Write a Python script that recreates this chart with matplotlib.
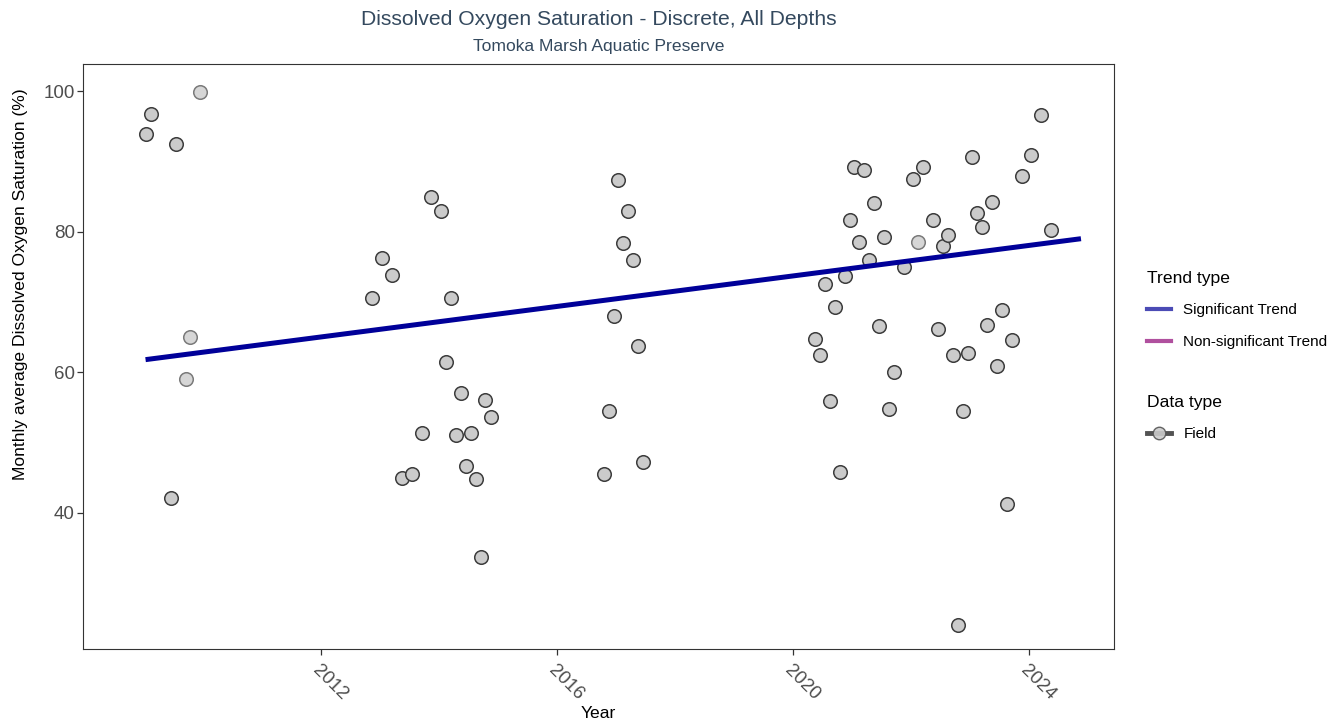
import numpy as np
import matplotlib
matplotlib.use("Agg")
import matplotlib.pyplot as plt
from matplotlib.lines import Line2D

plt.rcParams['font.family'] = ['Liberation Sans', 'DejaVu Sans']

# Monthly averages (decimal year, % saturation)
years = [
    2009.04, 2009.125, 2009.46, 2009.54,
    2012.875, 2013.04, 2013.21, 2013.375, 2013.54, 2013.71, 2013.875,
    2014.04, 2014.125, 2014.21, 2014.29, 2014.375, 2014.46, 2014.54,
    2014.625, 2014.71, 2014.79, 2014.875,
    2016.79, 2016.875, 2016.96, 2017.04, 2017.125, 2017.21, 2017.29,
    2017.375, 2017.46,
    2020.375, 2020.46, 2020.54, 2020.625, 2020.71, 2020.79, 2020.875,
    2020.96, 2021.04, 2021.125, 2021.21, 2021.29, 2021.375, 2021.46,
    2021.54, 2021.625, 2021.71, 2021.875, 2022.04, 2022.21, 2022.375,
    2022.46, 2022.54, 2022.625, 2022.71, 2022.79, 2022.875, 2022.96,
    2023.04, 2023.125, 2023.21, 2023.29, 2023.375, 2023.46, 2023.54,
    2023.625, 2023.71, 2023.875, 2024.04, 2024.21, 2024.375,
]
values = [
    93.9, 96.7, 42.1, 92.5,
    70.5, 76.2, 73.8, 44.9, 45.5, 51.4, 84.9,
    83.0, 61.5, 70.5, 51.1, 57.1, 46.7, 51.4,
    44.8, 33.7, 56.0, 53.6,
    45.5, 54.5, 68.0, 87.3, 78.4, 82.9, 76.0,
    63.7, 47.3,
    64.7, 62.4, 72.5, 55.9, 69.3, 45.8, 73.7,
    81.7, 89.2, 78.6, 88.8, 75.9, 84.1, 66.6,
    79.3, 54.8, 60.0, 75.0, 87.5, 89.2, 81.6,
    66.2, 78.0, 79.5, 62.5, 24.1, 54.5, 62.7,
    90.6, 82.7, 80.7, 66.7, 84.2, 60.9, 68.8,
    41.3, 64.6, 87.9, 90.9, 96.6, 80.3,
]

# months with a single observation (drawn fainter)
faint_years = [2009.71, 2009.79, 2009.96, 2022.125]
faint_values = [59.0, 65.0, 99.9, 78.6]

# fitted trend (start / end)
trend_years = [2009.03, 2024.88]
trend_values = [61.8, 79.0]

fig = plt.figure(figsize=(13.43, 7.28), dpi=100)
ax = fig.add_axes([0.0618, 0.1085, 0.7677, 0.8035])

ax.scatter(faint_years, faint_values, s=95, facecolor='#d6d6d6',
           edgecolor='#7a7a7a', linewidth=1.1, zorder=2)
ax.scatter(years, values, s=95, facecolor='#cbcbcb',
           edgecolor='#3c3c3c', linewidth=1.1, zorder=2)
ax.plot(trend_years, trend_values, color='#000099', linewidth=3.6,
        solid_capstyle='butt', zorder=3)

ax.set_xlim(2007.97, 2025.44)
ax.set_ylim(20.64, 103.84)
ax.set_xticks([2012, 2016, 2020, 2024])
ax.set_yticks([40, 60, 80, 100])
ax.tick_params(axis='both', colors='#333333', labelcolor='#4d4d4d',
               labelsize=13.5, length=4, width=0.9)
ax.tick_params(axis='y', pad=2)
ax.tick_params(axis='x', pad=5)
for lab in ax.get_xticklabels():
    lab.set_rotation(-45)
    lab.set_ha('left')
    lab.set_va('top')
    lab.set_rotation_mode('anchor')

for sp in ax.spines.values():
    sp.set_color('#333333')
    sp.set_linewidth(0.8)

ax.set_xlabel('Year', fontsize=12.6, va='center')
ax.xaxis.set_label_coords(0.5, -0.111)
ax.set_ylabel('Monthly average Dissolved Oxygen Saturation (%)',
              fontsize=12.6, va='center')
ax.yaxis.set_label_coords(-0.061, 0.624)

fig.text(0.4457, 0.973, 'Dissolved Oxygen Saturation - Discrete, All Depths',
         ha='center', va='center', fontsize=15.2, color='#34495e')
fig.text(0.4457, 0.936, 'Tomoka Marsh Aquatic Preserve',
         ha='center', va='center', fontsize=12.6, color='#34495e')

# legends
trend_handles = [
    Line2D([], [], color='#4b4bb5', linewidth=3),
    Line2D([], [], color='#b0509e', linewidth=3),
]
leg1 = fig.legend(trend_handles, ['Significant Trend', 'Non-significant Trend'],
                  title='Trend type', loc='upper left',
                  bbox_to_anchor=(0.844, 0.647), frameon=False,
                  fontsize=11, title_fontsize=12.6, alignment='left',
                  handlelength=1.57, handletextpad=0.8, labelspacing=1.15)

field_handle = Line2D([], [], color='#404040', linewidth=3.5, marker='o',
                      markersize=9, markerfacecolor='#cbcbcb',
                      markeredgecolor='#555555', alpha=0.9)
leg2 = fig.legend([field_handle], ['Field'], title='Data type',
                  loc='upper left', bbox_to_anchor=(0.844, 0.476),
                  frameon=False, fontsize=11, title_fontsize=12.6,
                  alignment='left', handlelength=1.57, handletextpad=0.8,
                  labelspacing=1.1)

fig.savefig('out.png', dpi=100)
